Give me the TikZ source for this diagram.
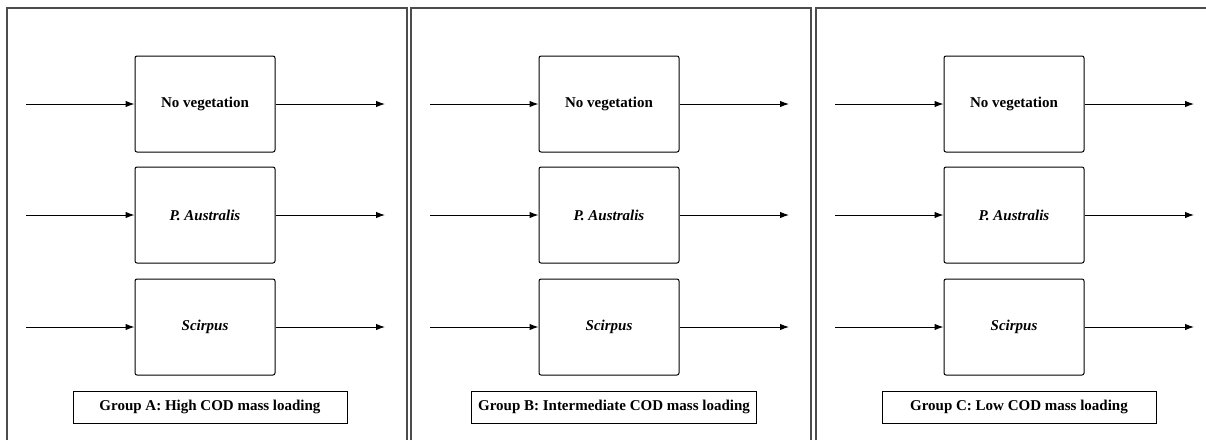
\documentclass[tikz,border=0pt]{standalone}
\usepackage{fontspec}
\setmainfont{Liberation Serif}
\usetikzlibrary{arrows.meta}
\tikzstyle{panel}=[line width=1.2pt, black!70]
\tikzstyle{bed}=[draw, line width=1pt, rounded corners=2pt, minimum width=140pt, minimum height=96pt, inner sep=0pt, font=\fontsize{15}{18}\selectfont\bfseries]
\tikzstyle{flow}=[-{Latex[length=9pt,width=6.5pt]}, line width=1pt]
\tikzstyle{grouplabel}=[draw, line width=1pt, minimum width=274pt, minimum height=32pt, inner xsep=7pt, inner ysep=0pt, font=\fontsize{15}{18}\selectfont\bfseries]

\begin{document}
\begin{tikzpicture}[x=1pt,y=-1pt]
	\useasboundingbox (0,0) rectangle (1206,440);
%
	\foreach \g/\dx/\load in {A/0/High, B/404/Intermediate, C/809/Low}{
		\draw[panel] (7+\dx,440) -- (7+\dx,8) -- (407+\dx,8) -- (407+\dx,440);
%
		\node[bed] (noveg\g) at (205+\dx,104) {No vegetation};
		\node[bed] (phrag\g) at (205+\dx,215) {\itshape P. Australis};
		\node[bed] (scirp\g) at (205+\dx,327) {\itshape Scirpus};
%
		\coordinate (inN\g) at (26+\dx,104);
		\coordinate (inP\g) at (26+\dx,215);
		\coordinate (inS\g) at (26+\dx,327);
		\coordinate (outN\g) at (385+\dx,104);
		\coordinate (outP\g) at (385+\dx,215);
		\coordinate (outS\g) at (385+\dx,327);
%
		\draw[flow] (inN\g) -- (noveg\g);
		\draw[flow] (noveg\g) -- (outN\g);
		\draw[flow] (inP\g) -- (phrag\g);
		\draw[flow] (phrag\g) -- (outP\g);
		\draw[flow] (inS\g) -- (scirp\g);
		\draw[flow] (scirp\g) -- (outS\g);
%
		\node[grouplabel] (group\g) at (210+\dx,407) {Group \g: \load{} COD mass loading};
	}
\end{tikzpicture}
\end{document}
